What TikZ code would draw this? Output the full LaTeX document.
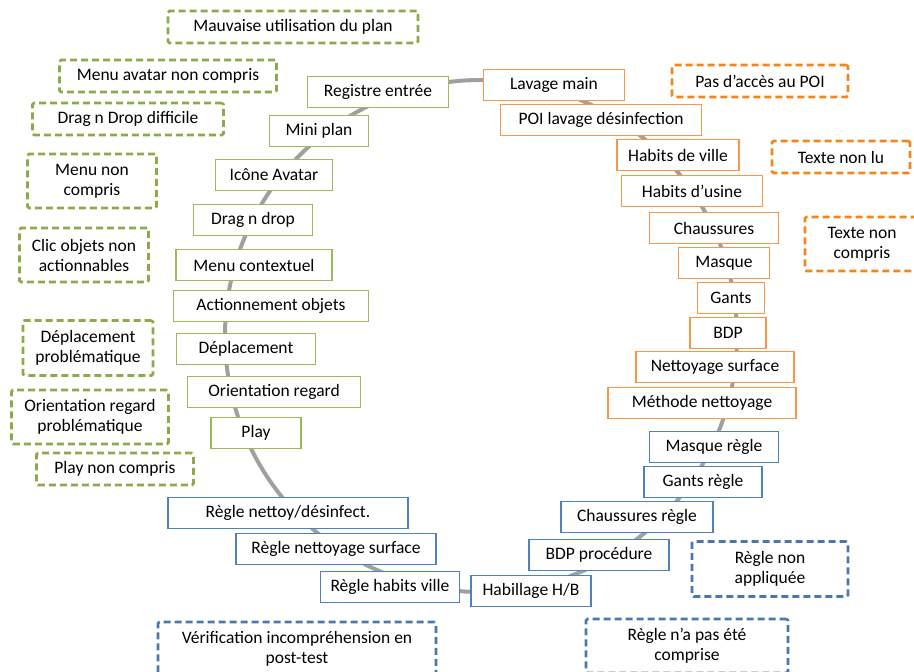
\documentclass[tikz,border=0pt]{standalone}
\usepackage{fontspec}
\setmainfont{Carlito}
\usetikzlibrary{positioning}
\definecolor{vert}{HTML}{9BBB59}
\definecolor{vertfonce}{HTML}{8CAA4B}
\definecolor{orange}{HTML}{F79646}
\definecolor{orangefonce}{HTML}{F0861E}
\definecolor{bleu}{HTML}{4F81BD}
\definecolor{bleufonce}{HTML}{4A78AC}
\definecolor{cercle}{HTML}{A0A0A0}

\begin{document}
\begin{tikzpicture}[
		x=1pt, y=-1pt,
		etape/.style={
			draw=#1, line width=1.3pt, fill=white,
			minimum height=31pt, inner sep=0pt, align=center,
			font=\fontsize{17.5}{20}\selectfont
		},
		erreur/.style={
			draw=#1, line width=2.6pt, fill=white, dash pattern=on 7pt off 4pt,
			rounded corners=1.5pt, inner sep=0pt, align=center,
			font=\fontsize{17.5}{20}\selectfont
		},
		]
		
		\useasboundingbox (0,0) rectangle (914,672);
		
		% Cycle drawn behind the steps
		\draw[cercle, line width=4pt] (481,336) circle (256);
		
		% --- Prise en main (green) ---
		\node[etape=vert, minimum width=141pt] (registre) at (378,92)  {Registre entrée};
		\node[etape=vert, minimum width=99pt]  (miniplan) at (319,131) {Mini plan};
		\node[etape=vert, minimum width=117pt] (icone)    at (274,175) {Icône Avatar};
		\node[etape=vert, minimum width=119pt] (drag)     at (253,220) {Drag n drop};
		\node[etape=vert, minimum width=156pt] (menu)     at (254,265) {Menu contextuel};
		\node[etape=vert, minimum width=195pt] (action)   at (271,306) {Actionnement objets};
		\node[etape=vert, minimum width=139pt] (deplac)   at (246,349) {Déplacement};
		\node[etape=vert, minimum width=173pt] (orient)   at (274,392) {Orientation regard};
		\node[etape=vert, minimum width=90pt]  (play)     at (256,433) {Play};
		
		% Green problems
		\node[erreur=vertfonce, minimum width=250pt, minimum height=32pt] (errplan)   at (293,27)  {Mauvaise utilisation du plan};
		\node[erreur=vertfonce, minimum width=217pt, minimum height=32pt] (erravatar) at (168,76)  {Menu avatar non compris};
		\node[erreur=vertfonce, minimum width=191pt, minimum height=32pt] (errdrag)   at (128,119) {Drag n Drop difficile};
		\node[erreur=vertfonce, minimum width=129pt, minimum height=54pt] (errmenu)   at (92,181)  {Menu non\\compris};
		\node[erreur=vertfonce, minimum width=129pt, minimum height=54pt] (errclic)   at (84,255)  {Clic objets non\\actionnables};
		\node[erreur=vertfonce, minimum width=130pt, minimum height=55pt] (errdeplac) at (88,348)  {Déplacement\\problématique};
		\node[erreur=vertfonce, minimum width=157pt, minimum height=54pt] (errorient) at (90,417)  {Orientation regard\\problématique};
		\node[erreur=vertfonce, minimum width=157pt, minimum height=32pt] (errplay)   at (115,469) {Play non compris};
		
		% --- Habillage (orange) ---
		\node[etape=orange, minimum width=141pt] (lavage)   at (554,85)  {Lavage main};
		\node[etape=orange, minimum width=201pt] (poi)      at (601,120) {POI lavage désinfection};
		\node[etape=orange, minimum width=122pt] (hville)   at (678,155) {Habits de ville};
		\node[etape=orange, minimum width=141pt] (husine)   at (692,191) {Habits d’usine};
		\node[etape=orange, minimum width=129pt] (chauss)   at (714,228) {Chaussures};
		\node[etape=orange, minimum width=91pt]  (masque)   at (724,263) {Masque};
		\node[etape=orange, minimum width=67pt]  (gants)    at (731,298) {Gants};
		\node[etape=orange, minimum width=76pt]  (bdp)      at (728,333) {BDP};
		\node[etape=orange, minimum width=158pt] (nsurface) at (715,367) {Nettoyage surface};
		\node[etape=orange, minimum width=188pt] (methode)  at (702,403) {Méthode nettoyage};
		
		% Orange problems
		\node[erreur=orangefonce, minimum width=176pt, minimum height=32pt] (errpoi)   at (760,81)  {Pas d’accès au POI};
		\node[erreur=orangefonce, minimum width=138pt, minimum height=32pt] (errlu)    at (841,157) {Texte non lu};
		\node[erreur=orangefonce, minimum width=114pt, minimum height=54pt] (errtexte) at (862,244) {Texte non\\compris};
		
		% --- Règles (blue) ---
		\node[etape=bleu, minimum width=129pt] (rmasque)  at (714,447) {Masque règle};
		\node[etape=bleu, minimum width=118pt] (rgants)   at (703,482) {Gants règle};
		\node[etape=bleu, minimum width=152pt] (rchauss)  at (637,517) {Chaussures règle};
		\node[etape=bleu, minimum width=140pt] (rbdp)     at (599,555) {BDP procédure};
		\node[etape=bleu, minimum width=120pt] (habill)   at (531,591) {Habillage H/B};
		\node[etape=bleu, minimum width=139pt] (rville)   at (390,587) {Règle habits ville};
		\node[etape=bleu, minimum width=200pt] (rsurface) at (336,549) {Règle nettoyage surface};
		\node[etape=bleu, minimum width=240pt] (rnettoy)  at (288,513) {Règle nettoy/désinfect.};
		
		% Blue problems
		\node[erreur=bleufonce, minimum width=156pt, minimum height=55pt] (errappli)  at (770,569) {Règle non\\appliquée};
		\node[erreur=bleufonce, minimum width=202pt, minimum height=54pt] (errcompr)  at (687,646) {Règle n’a pas été\\comprise};
		\node[erreur=bleufonce, minimum width=278pt, minimum height=54pt] (errverif)  at (297,649) {Vérification incompréhension en\\post-test};
		
	\end{tikzpicture}
\end{document}
